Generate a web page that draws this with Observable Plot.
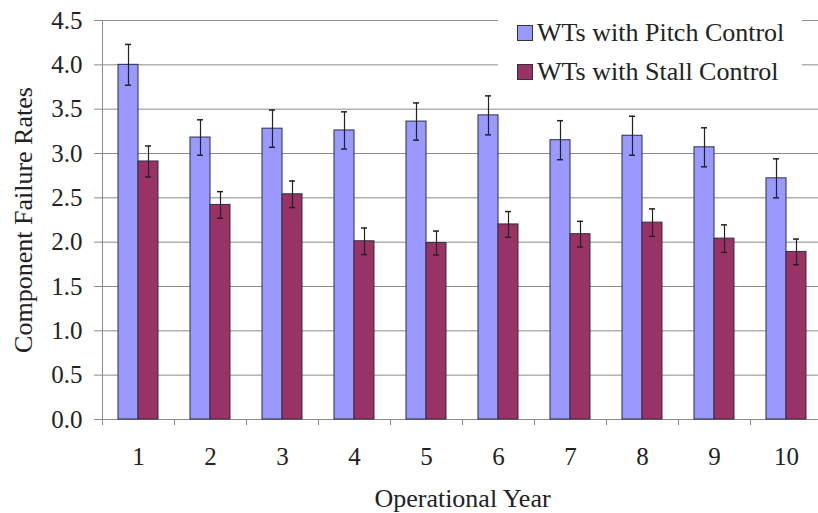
<!DOCTYPE html>
<html>
<head>
<meta charset="utf-8">
<script src="https://cdn.jsdelivr.net/npm/d3@7"></script>
<script src="https://cdn.jsdelivr.net/npm/@observablehq/plot@0.6"></script>
<style>
  html, body { margin: 0; padding: 0; background: #fff; }
  #wrap { position: relative; width: 818px; height: 513px; overflow: hidden; }
  #legend {
    position: absolute; left: 498px; top: 6px; width: 304px; height: 88px;
    background: #fff; font-family: "Liberation Serif", "Times New Roman", "DejaVu Serif", serif; font-size: 26px; color: #222;
  }
  .row { position: absolute; left: 19px; display: flex; align-items: center; height: 30px; white-space: nowrap; }
  .sw { width: 14px; height: 14px; border: 1px solid #333; margin-right: 4px; flex: none; }
</style>
</head>
<body>
<div id="wrap"></div>
<script>
const years = [1, 2, 3, 4, 5, 6, 7, 8, 9, 10];
const seriesNames = ["WTs with Pitch Control", "WTs with Stall Control"];
const seriesColors = ["#9999ff", "#993366"];
const pitch = [4.00, 3.18, 3.28, 3.26, 3.36, 3.43, 3.15, 3.20, 3.07, 2.72];
const pitchErr = [0.23, 0.20, 0.21, 0.21, 0.21, 0.22, 0.22, 0.22, 0.22, 0.22];
const stall = [2.91, 2.42, 2.54, 2.01, 1.99, 2.20, 2.09, 2.22, 2.04, 1.89];
const stallErr = [0.175, 0.15, 0.15, 0.15, 0.135, 0.145, 0.145, 0.155, 0.155, 0.145];
const yTicks = [0, 0.5, 1, 1.5, 2, 2.5, 3, 3.5, 4, 4.5];

const data = [];
years.forEach((yr, i) => {
  data.push({year: yr, series: seriesNames[0], value: pitch[i], err: pitchErr[i]});
  data.push({year: yr, series: seriesNames[1], value: stall[i], err: stallErr[i]});
});

const serif = "'Liberation Serif', 'Times New Roman', 'DejaVu Serif', serif";

const plot = Plot.plot({
  width: 818,
  height: 513,
  marginLeft: 100,
  marginRight: -5,
  marginTop: 20,
  marginBottom: 94,
  style: {fontFamily: serif, fontSize: "25px", color: "#222", background: "#fff"},
  fx: {domain: years, padding: 0, label: "Operational Year", labelAnchor: "center", axis: null},
  x: {domain: seriesNames, paddingInner: 0, paddingOuter: 0.72, axis: null},
  y: {domain: [0, 4.5], label: "Component Failure Rates"},
  color: {domain: seriesNames, range: seriesColors},
  marks: [
    Plot.gridY(yTicks, {stroke: "#8a8a8a", strokeOpacity: 1}),
    Plot.axisY(yTicks, {tickFormat: d3.format(".1f"), tickSize: 8, tickPadding: 12, stroke: "#8a8a8a", fontSize: 25,
      label: null}),
    Plot.axisY({label: "Component Failure Rates", labelAnchor: "center", labelArrow: "none", labelOffset: 89, fontSize: 26, ticks: [], tickSize: 0}),
    Plot.axisFx({anchor: "bottom", tickSize: 0, tickPadding: 28, fontSize: 25, label: null}),
    Plot.axisFx({anchor: "bottom", ticks: [], tickSize: 0, label: "Operational Year", labelAnchor: "center", labelArrow: "none", labelOffset: 87, fontSize: 26}),
    Plot.ruleY([0], {stroke: "#8a8a8a"}),
    Plot.barY(data, {fx: "year", x: "series", y: "value", fill: "series", stroke: "#2e2e45", strokeWidth: 1}),
    Plot.ruleX(data, {fx: "year", x: "series", y1: d => d.value - d.err, y2: d => d.value + d.err, stroke: "#222", strokeWidth: 1.2}),
    Plot.tickY(data, {fx: "year", x: "series", y: d => d.value + d.err, insetLeft: 7, insetRight: 7, stroke: "#222", strokeWidth: 1.5}),
    Plot.tickY(data, {fx: "year", x: "series", y: d => d.value - d.err, insetLeft: 7, insetRight: 7, stroke: "#222", strokeWidth: 1.5})
  ]
});

document.getElementById("wrap").appendChild(plot);

// axis lines and category boundary ticks, from the plot's own scales
try {
  const fx = plot.scale("fx");
  const y = plot.scale("y");
  const svg = d3.select(plot.tagName.toLowerCase() === "svg" ? plot : plot.querySelector("svg"));
  const y0 = y.apply(0), yTop = y.apply(4.5);
  const g = svg.append("g").attr("stroke", "#8a8a8a").attr("stroke-width", 1);
  const edges = years.map(v => fx.apply(v));
  edges.push(fx.apply(years[years.length - 1]) + fx.bandwidth);
  edges.forEach((ex, i) => {
    g.append("line").attr("x1", ex + 0.5).attr("x2", ex + 0.5).attr("y1", i === 0 ? yTop : y0).attr("y2", y0 + 6);
  });
} catch (e) { console.error(e); }

// legend
const legend = document.createElement("div");
legend.id = "legend";
seriesNames.forEach((name, i) => {
  const row = document.createElement("div");
  row.className = "row";
  row.style.top = (12 + i * 39) + "px";
  const sw = document.createElement("div");
  sw.className = "sw";
  sw.style.background = seriesColors[i];
  const t = document.createElement("span");
  t.textContent = name;
  row.appendChild(sw);
  row.appendChild(t);
  legend.appendChild(row);
});
document.getElementById("wrap").appendChild(legend);
</script>
</body>
</html>
